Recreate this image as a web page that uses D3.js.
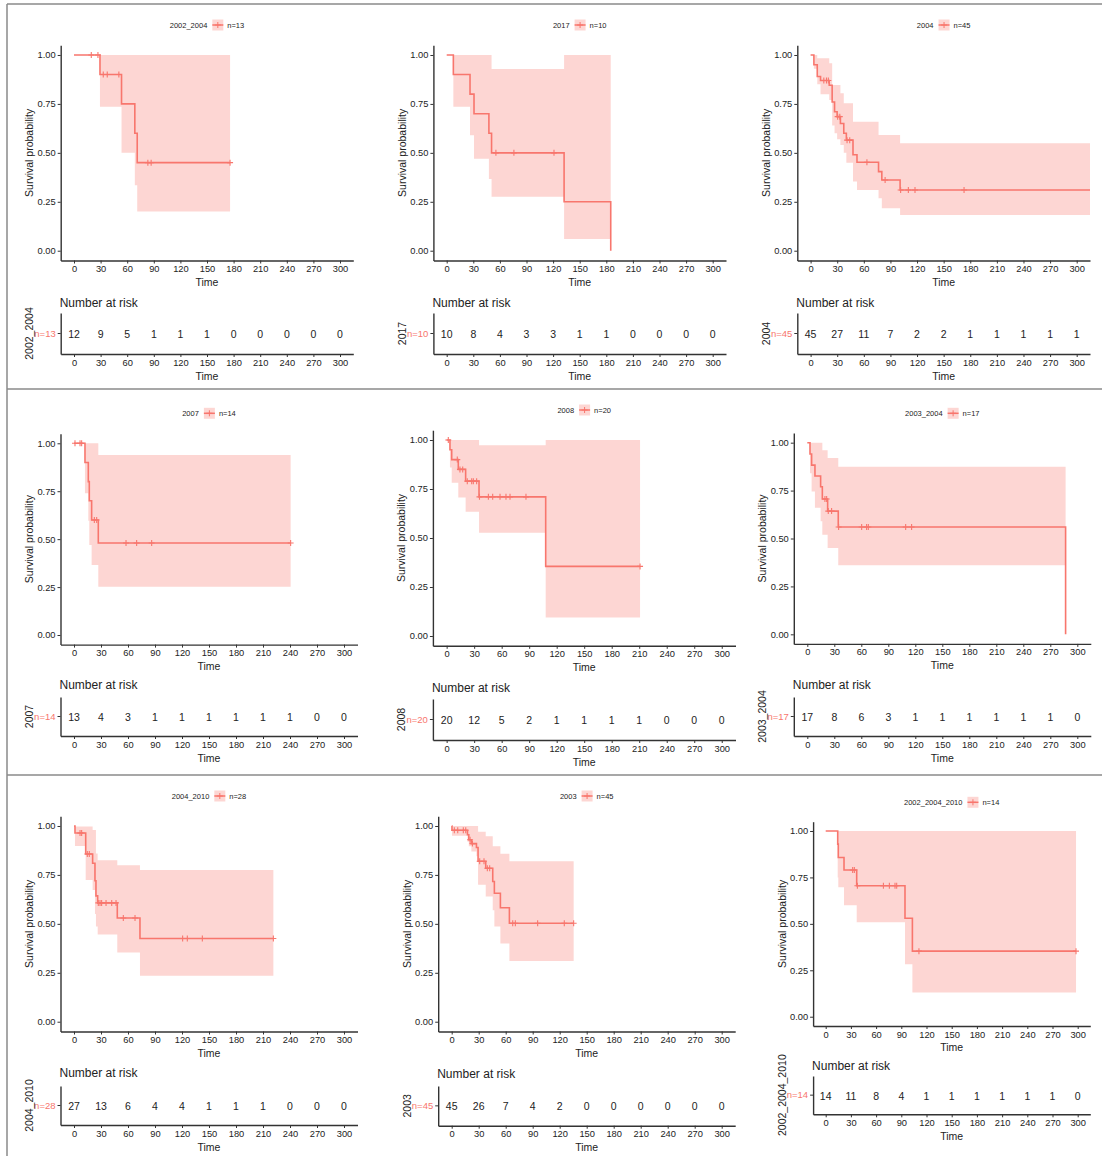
<!DOCTYPE html>
<html>
<head>
<meta charset="utf-8">
<script src="https://cdn.jsdelivr.net/npm/d3@7"></script>
<style>
  body { margin: 0; background: #fff; }
  svg { font-family: "Liberation Sans", Arial, sans-serif; }
</style>
</head>
<body>
<svg id="chart" width="1102" height="1156"></svg>
<script>
// groups, one per panel
const groups = ['2002_2004', '2017', '2004', '2007', '2008', '2003_2004', '2004_2010', '2003', '2002_2004_2010'];
const nTotal = [13, 10, 45, 14, 20, 17, 28, 45, 14];

const timeTicks = [0, 30, 60, 90, 120, 150, 180, 210, 240, 270, 300];
const probTicks = [0, 0.25, 0.5, 0.75, 1];

// number at risk at each time tick
const riskCounts = [
  [12, 9, 5, 1, 1, 1, 0, 0, 0, 0, 0],
  [10, 8, 4, 3, 3, 1, 1, 0, 0, 0, 0],
  [45, 27, 11, 7, 2, 2, 1, 1, 1, 1, 1],
  [13, 4, 3, 1, 1, 1, 1, 1, 1, 0, 0],
  [20, 12, 5, 2, 1, 1, 1, 1, 0, 0, 0],
  [17, 8, 6, 3, 1, 1, 1, 1, 1, 1, 0],
  [27, 13, 6, 4, 4, 1, 1, 1, 0, 0, 0],
  [45, 26, 7, 4, 2, 0, 0, 0, 0, 0, 0],
  [14, 11, 8, 4, 1, 1, 1, 1, 1, 1, 0]
];

// Kaplan-Meier steps
const stepTimes = [
  [0, 29.3, 53.6, 68.6, 71.3],
  [0, 7.5, 26.3, 30.8, 47.6, 50.6, 132.4, 185],
  [0, 3.7, 7.5, 11.2, 21, 24.3, 27, 29.9, 33.6, 37.4, 40.3, 47.8, 52.3, 76.6, 80.3, 100.9],
  [0, 12.2, 15.9, 17, 19.6, 27],
  [0, 3.6, 5.5, 12.7, 20.7, 35.3, 108],
  [0, 3, 4.8, 8.5, 14.8, 16.7, 22.6, 34.4, 287],
  [0, 1.1, 13, 20.7, 23.3, 24.4, 26.3, 48.1, 73.3],
  [0, 0.3, 17.5, 19, 21.9, 27.5, 29.3, 37.8, 45.6, 47.4, 54.1, 64.1],
  [0, 14.3, 15, 21.8, 36.9, 94.4, 103.2]
];
const stepSurv = [
  [1, 0.9, 0.75, 0.6, 0.45],
  [1, 0.9, 0.8, 0.7, 0.6, 0.5, 0.25, 0],
  [1, 0.95, 0.89, 0.87, 0.845, 0.76, 0.71, 0.685, 0.65, 0.6, 0.565, 0.49, 0.452, 0.404, 0.361, 0.31],
  [1, 0.9, 0.8, 0.7, 0.6, 0.48],
  [1, 0.95, 0.9, 0.85, 0.79, 0.71, 0.355],
  [1, 0.941, 0.883, 0.826, 0.77, 0.706, 0.643, 0.56, 0],
  [1, 0.964, 0.857, 0.81, 0.72, 0.643, 0.607, 0.53, 0.425],
  [1, 0.978, 0.955, 0.93, 0.91, 0.89, 0.82, 0.784, 0.716, 0.656, 0.582, 0.503],
  [1, 0.929, 0.857, 0.79, 0.705, 0.53, 0.353]
];
const stepLower = [
  [1, 0.735, 0.5, 0.335, 0.2],
  [1, 0.735, 0.59, 0.47, 0.366, 0.276, 0.06, 0],
  [1, 0.93, 0.85, 0.8, 0.77, 0.64, 0.6, 0.57, 0.54, 0.5, 0.45, 0.353, 0.31, 0.268, 0.217, 0.182],
  [1, 0.74, 0.596, 0.47, 0.365, 0.252],
  [1, 0.86, 0.782, 0.706, 0.634, 0.527, 0.094],
  [1, 0.84, 0.745, 0.66, 0.59, 0.52, 0.45, 0.36, 0],
  [1, 0.898, 0.724, 0.673, 0.55, 0.486, 0.446, 0.353, 0.235],
  [1, 0.95, 0.92, 0.897, 0.87, 0.846, 0.7, 0.64, 0.57, 0.486, 0.4, 0.31],
  [1, 0.75, 0.697, 0.6, 0.508, 0.282, 0.131]
];
const stepUpper = [
  [1, 1, 1, 1, 1],
  [1, 1, 1, 1, 1, 0.928, 1, 0],
  [1, 1, 0.983, 0.983, 0.958, 0.847, 0.847, 0.847, 0.804, 0.753, 0.753, 0.659, 0.659, 0.591, 0.591, 0.549],
  [1, 1, 1, 1, 1, 0.939],
  [1, 1, 1, 1, 1, 0.973, 1],
  [1, 1, 1, 1, 1, 0.96, 0.92, 0.875, 0],
  [1, 0.997, 0.997, 0.98, 0.98, 0.86, 0.825, 0.8, 0.775],
  [1, 1, 1, 1, 1, 1, 0.97, 0.948, 0.897, 0.897, 0.858, 0.82],
  [1, 1, 1, 1, 1, 1, 1]
];
const endTimes = [176, 185, 315, 240.7, 210.9, 287, 221.5, 135.5, 298];
const censorTimes = [
  [19.5, 27, 33, 37.5, 50.6, 83.3, 87, 176],
  [55.5, 75.8, 121],
  [14.9, 17.9, 20, 30.5, 32.9, 41.1, 44.1, 63.5, 84, 101.5, 110.2, 117.7, 173],
  [1.1, 6.7, 8.5, 22.6, 25.2, 57.8, 69.6, 86.3, 240.7],
  [1.8, 11.6, 14.5, 17.5, 22.5, 27.3, 29.1, 32.7, 35.8, 45.5, 50.2, 58.2, 64.7, 69.1, 86.5, 210.9],
  [19.6, 21.5, 23.3, 27, 34.8, 60.4, 65.9, 67.8, 109.3, 115.9],
  [6.7, 8.5, 14.8, 17, 27, 28.9, 30.7, 35.6, 41.9, 46.7, 54.8, 67.8, 120.7, 125.9, 142.6, 221.5],
  [2.9, 6.7, 12.9, 15.6, 20.4, 23, 31.1, 35.9, 39.6, 42.2, 67.8, 70.7, 95.5, 125.1, 135.5],
  [32.1, 34.1, 37.7, 68.7, 75.8, 82.5, 84.5, 111, 298]
];

// panel placement on the page
const layout = [
  { left: 60.7, right: 353.3, top: 45.2, bottom: 260.5, legendY: 25, narY: 303, riskTop: 313, riskBottom: 354 },
  { left: 433.4, right: 726, top: 45.2, bottom: 260.5, legendY: 25, narY: 303, riskTop: 313, riskBottom: 354 },
  { left: 797.3, right: 1090, top: 45.2, bottom: 260.5, legendY: 25, narY: 303, riskTop: 313, riskBottom: 354 },
  { left: 60.5, right: 357.5, top: 433.7, bottom: 644.6, legendY: 413.3, narY: 685, riskTop: 697, riskBottom: 736 },
  { left: 432.9, right: 735.5, top: 430.2, bottom: 645.8, legendY: 410, narY: 687.7, riskTop: 699, riskBottom: 740 },
  { left: 793.8, right: 1090.8, top: 433.1, bottom: 643.9, legendY: 413.3, narY: 685, riskTop: 697, riskBottom: 736 },
  { left: 60.5, right: 357.5, top: 816.2, bottom: 1031.5, legendY: 796, narY: 1073.3, riskTop: 1086, riskBottom: 1125 },
  { left: 438.2, right: 735.2, top: 816.2, bottom: 1031.5, legendY: 796, narY: 1074, riskTop: 1086, riskBottom: 1125.7 },
  { left: 813.1, right: 1090.3, top: 821.7, bottom: 1026, legendY: 802.3, narY: 1066, riskTop: 1076, riskBottom: 1114.3 }
];

const red = '#F8766D';
const axisColor = '#333';
const textColor = '#222';

const svg = d3.select('#chart');

// screenshot frame lines
const frame = svg.append('g').attr('stroke', '#8a8a8a').attr('stroke-width', 1.5);
frame.append('line').attr('x1', 7).attr('x2', 1102).attr('y1', 4).attr('y2', 4);
frame.append('line').attr('x1', 7).attr('x2', 7).attr('y1', 4).attr('y2', 1156);
frame.append('line').attr('x1', 7).attr('x2', 1102).attr('y1', 389).attr('y2', 389);
frame.append('line').attr('x1', 7).attr('x2', 1102).attr('y1', 775).attr('y2', 775);

function styleAxis(sel) {
  sel.select('.domain').attr('stroke', axisColor).attr('stroke-width', 1.4);
  sel.selectAll('.tick line').attr('stroke', axisColor);
  sel.selectAll('.tick text').attr('fill', textColor).attr('font-size', 9.3);
}

groups.forEach((name, i) => {
  const L = layout[i];
  const g = svg.append('g');

  const x = d3.scaleLinear().domain([-15, 315]).range([L.left, L.right]);
  const y = d3.scaleLinear().domain([-0.05, 1.05]).range([L.bottom, L.top]);

  const steps = stepTimes[i].map((t, k) => ({
    t: t, s: stepSurv[i][k], lo: stepLower[i][k], hi: stepUpper[i][k]
  }));
  const last = steps[steps.length - 1];
  const bandData = steps.concat(last.t < endTimes[i] ? [{ t: endTimes[i], s: last.s, lo: last.lo, hi: last.hi }] : []);

  const area = d3.area()
    .curve(d3.curveStepAfter)
    .x(d => x(d.t))
    .y0(d => y(d.lo))
    .y1(d => y(d.hi));

  const line = d3.line()
    .curve(d3.curveStepAfter)
    .x(d => x(d.t))
    .y(d => y(d.s));

  g.append('path')
    .datum(bandData)
    .attr('fill', red)
    .attr('fill-opacity', 0.3)
    .attr('d', area);

  g.append('path')
    .datum(bandData)
    .attr('fill', 'none')
    .attr('stroke', red)
    .attr('stroke-width', 1.6)
    .attr('d', line);

  // censor marks
  const survAt = t => {
    let s = 1;
    steps.forEach(d => { if (d.t <= t) s = d.s; });
    return s;
  };
  g.selectAll('.censor')
    .data(censorTimes[i])
    .join('path')
    .attr('transform', t => 'translate(' + x(t) + ',' + y(survAt(t)) + ')')
    .attr('d', 'M-3,0H3M0,-3V3')
    .attr('stroke', red)
    .attr('stroke-width', 1.1);

  // axes of survival plot
  const ax = g.append('g')
    .attr('transform', 'translate(0,' + L.bottom + ')')
    .call(d3.axisBottom(x).tickValues(timeTicks).tickSize(3).tickSizeOuter(0).tickPadding(2));
  styleAxis(ax);

  const ay = g.append('g')
    .attr('transform', 'translate(' + L.left + ',0)')
    .call(d3.axisLeft(y).tickValues(probTicks).tickFormat(d3.format('.2f')).tickSize(3).tickSizeOuter(0).tickPadding(2));
  styleAxis(ay);

  g.append('text')
    .attr('x', (L.left + L.right) / 2)
    .attr('y', L.bottom + 25)
    .attr('text-anchor', 'middle')
    .attr('font-size', 10.5)
    .attr('fill', textColor)
    .text('Time');

  g.append('text')
    .attr('transform', 'translate(' + (L.left - 27.5) + ',' + ((L.top + L.bottom) / 2) + ') rotate(-90)')
    .attr('text-anchor', 'middle')
    .attr('font-size', 10.5)
    .attr('fill', textColor)
    .text('Survival probability');

  // legend
  const lg = g.append('g');
  const lt = lg.append('text')
    .attr('font-size', 7.5)
    .attr('fill', textColor)
    .attr('y', L.legendY + 2.6)
    .text(name);
  const ln = lg.append('text')
    .attr('font-size', 7.5)
    .attr('fill', textColor)
    .attr('y', L.legendY + 2.6)
    .text('n=' + nTotal[i]);
  const w1 = lt.node().getComputedTextLength();
  const w2 = ln.node().getComputedTextLength();
  const total = w1 + 5 + 11 + 4 + w2;
  const x0 = (L.left + L.right) / 2 - total / 2;
  lt.attr('x', x0);
  const kx = x0 + w1 + 5;
  lg.append('rect')
    .attr('x', kx).attr('y', L.legendY - 5.5)
    .attr('width', 11).attr('height', 11)
    .attr('fill', red).attr('fill-opacity', 0.3);
  lg.append('line')
    .attr('x1', kx).attr('x2', kx + 11)
    .attr('y1', L.legendY).attr('y2', L.legendY)
    .attr('stroke', red).attr('stroke-width', 1.5);
  lg.append('path')
    .attr('transform', 'translate(' + (kx + 5.5) + ',' + L.legendY + ')')
    .attr('d', 'M-3,0H3M0,-3V3')
    .attr('stroke', red);
  ln.attr('x', kx + 11 + 4);

  // number at risk table
  g.append('text')
    .attr('x', L.left - 1)
    .attr('y', L.narY + 4)
    .attr('font-size', 12)
    .attr('fill', textColor)
    .text('Number at risk');

  const ry = d3.scaleBand().domain([name]).range([L.riskTop, L.riskBottom]);

  g.selectAll('.risk')
    .data(riskCounts[i])
    .join('text')
    .attr('x', (d, k) => x(timeTicks[k]))
    .attr('y', ry(name) + ry.bandwidth() / 2 + 4.5)
    .attr('text-anchor', 'middle')
    .attr('font-size', 10.5)
    .attr('fill', textColor)
    .text(d => d);

  const rx = g.append('g')
    .attr('transform', 'translate(0,' + L.riskBottom + ')')
    .call(d3.axisBottom(x).tickValues(timeTicks).tickSize(3).tickSizeOuter(0).tickPadding(2));
  styleAxis(rx);

  const rya = g.append('g')
    .attr('transform', 'translate(' + L.left + ',0)')
    .call(d3.axisLeft(ry).tickFormat(() => 'n=' + nTotal[i]).tickSize(3).tickSizeOuter(0).tickPadding(2));
  styleAxis(rya);
  rya.selectAll('.tick text').attr('fill', red).attr('font-size', 9.5);

  g.append('text')
    .attr('x', (L.left + L.right) / 2)
    .attr('y', L.riskBottom + 25.5)
    .attr('text-anchor', 'middle')
    .attr('font-size', 10.5)
    .attr('fill', textColor)
    .text('Time');

  g.append('text')
    .attr('transform', 'translate(' + (L.left - 27.5) + ',' + ((L.riskTop + L.riskBottom) / 2) + ') rotate(-90)')
    .attr('text-anchor', 'middle')
    .attr('font-size', 10.5)
    .attr('fill', textColor)
    .text(name);
});
</script>
</body>
</html>
